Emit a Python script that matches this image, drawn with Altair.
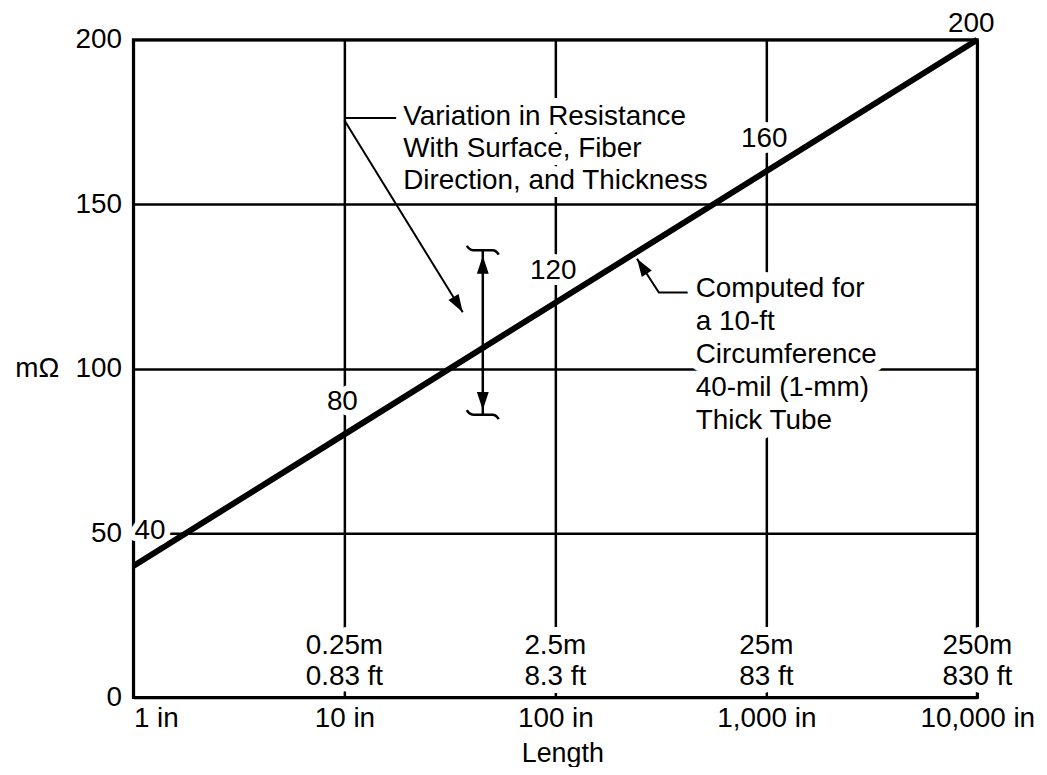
import altair as alt
import pandas as pd

# ---- data ----
length_in = [1, 10, 100, 1000, 10000]          # inches
resistance = [40, 80, 120, 160, 200]           # mOhm (computed line)
point_labels = ["40", "80", "120", "160", "200"]

x_ticks = [1, 10, 100, 1000, 10000]
y_ticks = [0, 50, 100, 150, 200]

metric_x = [10, 100, 1000, 10000]
metric_labels = ["0.25m", "2.5m", "25m", "250m"]
feet_labels = ["0.83 ft", "8.3 ft", "83 ft", "830 ft"]

# variation in resistance bar
var_x = [45.3]
var_low = [86]
var_high = [136]
var_tip_low = [87.4]
var_tip_high = [134.3]

# annotation texts and anchors (first line)
var_text = ["Variation in Resistance\nWith Surface, Fiber\nDirection, and Thickness"]
var_text_x = [19.0]
var_text_y = [176.4]
comp_text = ["Computed for\na 10-ft\nCircumference\n40-mil (1-mm)\nThick Tube"]
comp_text_x = [462.6]
comp_text_y = [124.1]

# leader lines (polyline id, order, x, y)
leader_id = ["v1", "v1", "v2", "v2", "c", "c", "c"]
leader_ord = [0, 1, 0, 1, 0, 1, 2]
leader_x = [10, 17.6, 10, 36.4, 243.8, 309.5, 428.6]
leader_y = [176.2, 176.2, 175.5, 117.1, 133.4, 123.1, 123.1]

FONT = "Liberation Sans"
FS = 28

xs = alt.Scale(type="log", domain=[1, 10000], nice=False)
ys = alt.Scale(domain=[0, 200], nice=False, zero=False)

x_axis = alt.Axis(
    values=x_ticks,
    labelExpr="format(datum.value, ',') + ' in'",
    labelAlign={"condition": {"test": "datum.value == 1", "value": "left"}, "value": "center"},
    labelFontSize=FS, labelFont=FONT, labelColor="black", labelPadding=7,
    labelBaseline="top", labelFlush=False, labelOverlap=False,
    ticks=False, tickSize=0, domain=False,
    grid=True, gridColor="black", gridWidth=2.5, gridOpacity=1,
    title="Length", titleFont=FONT, titleFontSize=27, titleFontWeight="normal",
    titleColor="black", titleX=431, titleY=56, titleAlign="center", titleBaseline="middle",
    titleAnchor="start", zindex=0,
)
y_axis = alt.Axis(
    values=y_ticks,
    labelFontSize=FS, labelFont=FONT, labelColor="black", labelPadding=12,
    labelFlush=False, labelOverlap=False,
    ticks=False, tickSize=0, domain=False,
    grid=True, gridColor="black", gridWidth=2.5, gridOpacity=1,
    title="mΩ", titleFont=FONT, titleFontSize=FS, titleFontWeight="normal",
    titleColor="black", titleAngle=0, titleX=-97, titleY=330,
    titleAlign="center", titleBaseline="middle", titleAnchor="start", zindex=0,
)


def X(f):
    return alt.X(f, type="quantitative", scale=xs, axis=x_axis)


def Y(f):
    return alt.Y(f, type="quantitative", scale=ys, axis=y_axis)


def halo_text(df, xf, yf, tf, halo=12, **kw):
    enc = dict(x=X(xf), y=Y(yf), text=alt.Text(tf, type="nominal"))
    bg = alt.Chart(df).mark_text(font=FONT, fontSize=FS, fill="white", stroke="white",
                                 strokeWidth=halo, strokeJoin="round", **kw).encode(**enc)
    fg = alt.Chart(df).mark_text(font=FONT, fontSize=FS, fill="black", **kw).encode(**enc)
    return bg + fg


line_df = pd.DataFrame({"x": length_in, "y": resistance, "lab": point_labels})

main_line = alt.Chart(line_df).mark_line(color="black", strokeWidth=6).encode(
    x=X("x"), y=Y("y"))

mid_df = line_df.iloc[1:4]
first_df = line_df.iloc[[0]]
last_df = line_df.iloc[[4]]
lab_mid = halo_text(mid_df, "x", "y", "lab", dx=-2, dy=-32, align="center", baseline="middle")
lab_first = halo_text(first_df, "x", "y", "lab", dx=1, dy=-35, align="left", baseline="middle")
lab_last = alt.Chart(last_df).mark_text(font=FONT, fontSize=FS, fill="black", dx=-6, dy=-16,
                                        align="center", baseline="middle").encode(
    x=X("x"), y=Y("y"), text=alt.Text("lab", type="nominal"))

met_df = pd.DataFrame({"x": metric_x, "y": [0] * 4, "m": metric_labels, "f": feet_labels})
met1 = halo_text(met_df, "x", "y", "m", halo=16, dy=-52, align="center", baseline="middle")
met2 = halo_text(met_df, "x", "y", "f", halo=16, dy=-21, align="center", baseline="middle")

var_df = pd.DataFrame({"x": var_text_x, "y": var_text_y, "t": var_text})
var_t = halo_text(var_df, "x", "y", "t", halo=16, align="left", baseline="middle",
                  lineBreak="\n", lineHeight=32)
comp_df = pd.DataFrame({"x": comp_text_x, "y": comp_text_y, "t": comp_text})
comp_t = halo_text(comp_df, "x", "y", "t", halo=20, align="left", baseline="middle",
                   lineBreak="\n", lineHeight=33)

lead_df = pd.DataFrame({"id": leader_id, "o": leader_ord, "x": leader_x, "y": leader_y})
leaders = alt.Chart(lead_df).mark_line(color="black", strokeWidth=2).encode(
    x=X("x"), y=Y("y"), detail="id:N", order="o:Q")

ARROW = "M0,0 L0.33,1 L-0.33,1 Z"
CAP = "M-1,-0.28 Q-0.85,0 -0.6,0 L0.6,0 Q0.85,0 1,0.28"


def arrow(xv, yv, ang):
    d = pd.DataFrame({"x": [xv], "y": [yv]})
    return alt.Chart(d).mark_point(shape=ARROW, filled=True, fill="black", strokeWidth=0,
                                   size=1300, angle=ang, opacity=1).encode(x=X("x"), y=Y("y"))


arr_var = arrow(leader_x[3], leader_y[3], 149)
arr_comp = arrow(leader_x[4], leader_y[4], 327)
arr_up = arrow(var_x[0], var_tip_high[0], 0)
arr_dn = arrow(var_x[0], var_tip_low[0], 180)

bar_df = pd.DataFrame({"x": var_x, "lo": var_low, "hi": var_high})
bar = alt.Chart(bar_df).mark_rule(color="black", strokeWidth=2.5).encode(
    x=X("x"), y=Y("lo"), y2="hi")
cap_df = pd.DataFrame({"x": var_x * 2, "y": var_low + var_high})
caps = alt.Chart(cap_df).mark_point(shape=CAP, filled=False, stroke="black", strokeWidth=2.5,
                                    size=1024, opacity=1).encode(x=X("x"), y=Y("y"))

chart = alt.layer(
    main_line, leaders, bar, caps, arr_var, arr_comp, arr_up, arr_dn,
    lab_mid, lab_first, lab_last, met1, met2, var_t, comp_t,
).properties(
    width=848, height=661,
    autosize=alt.AutoSizeParams(type="none"),
    padding={"left": 126, "top": 30, "right": 62, "bottom": 68},
    background="white",
).configure(
    font=FONT
).configure_view(
    stroke="black", strokeWidth=3
)

chart.save("out.html", embed_options={"renderer": "svg", "actions": False})
